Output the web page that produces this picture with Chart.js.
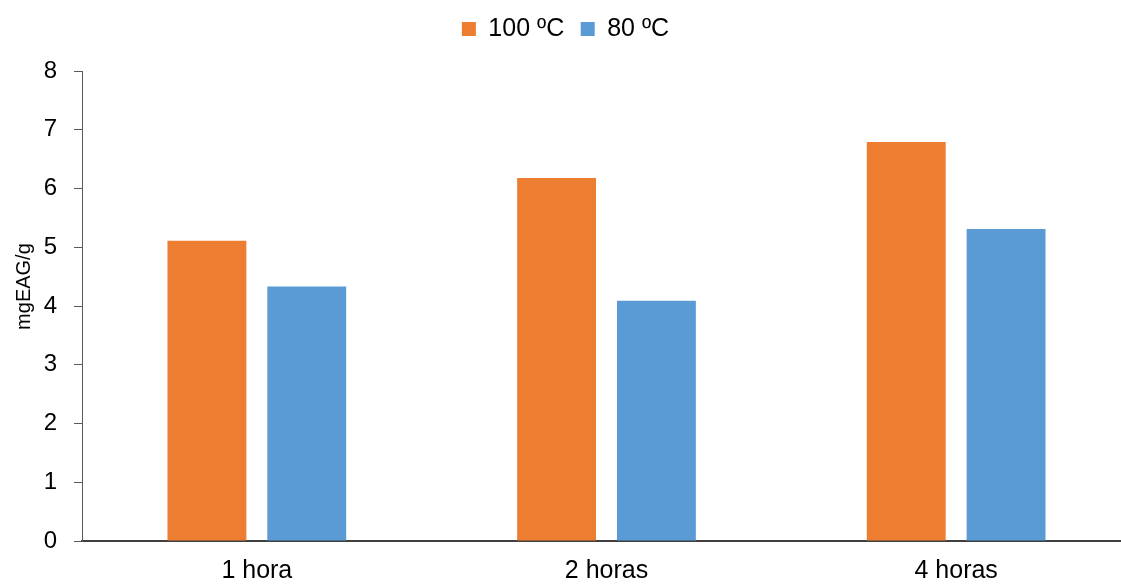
<!DOCTYPE html>
<html>
<head>
<meta charset="utf-8">
<script src="https://cdn.jsdelivr.net/npm/chart.js@4/dist/chart.umd.min.js"></script>
<style>
  html, body { margin: 0; padding: 0; background: #fff; overflow: hidden; }
  #wrap { position: relative; width: 1131px; height: 584px; }
</style>
</head>
<body>
<div id="wrap"><canvas id="chart"></canvas></div>
<script>
// Extraction time categories and measured values (mgEAG/g)
const categories = ['1 hora', '2 horas', '4 horas'];
const series100 = [5.11, 6.18, 6.79];
const series80 = [4.33, 4.09, 5.31];
const seriesLabels = ['100 ºC', '80 ºC'];
const yTicks = [0, 1, 2, 3, 4, 5, 6, 7, 8];

const FONT = "'Liberation Sans', Arial, sans-serif";
const PLOT_TOP = 71;      // top edge of the plotting area
const X_AXIS_BAND = 43;   // space under the plotting area for category labels

// Reserve a fixed band for the legend so the plot starts at PLOT_TOP
const legendBand = {
  id: 'legendBand',
  beforeInit(chart) {
    const lg = chart.legend;
    if (!lg) return;
    const fit = lg.fit;
    lg.fit = function () {
      fit.call(this);
      this.height = PLOT_TOP;
    };
  }
};

new Chart(document.getElementById('chart'), {
  type: 'bar',
  data: {
    labels: categories,
    datasets: [
      { label: seriesLabels[0], data: series100, backgroundColor: '#ED7D31',
        categoryPercentage: 0.571, barPercentage: 0.79 },
      { label: seriesLabels[1], data: series80, backgroundColor: '#5B9BD5',
        categoryPercentage: 0.571, barPercentage: 0.79 }
    ]
  },
  plugins: [legendBand],
  options: {
    responsive: true,
    maintainAspectRatio: false,
    animation: false,
    layout: { padding: 0 },
    plugins: {
      legend: {
        position: 'top',
        labels: {
          boxWidth: 14, boxHeight: 14, padding: 16.5,
          color: '#000',
          font: { family: FONT, size: 25 }
        }
      },
      tooltip: { enabled: false }
    },
    scales: {
      x: {
        grid: { display: false, drawTicks: false },
        border: { display: true, color: '#404040', width: 2 },
        ticks: { color: '#000', font: { family: FONT, size: 25 }, padding: 15 },
        afterFit: (s) => { s.height = X_AXIS_BAND; }
      },
      y: {
        min: 0, max: 8,
        afterBuildTicks: (s) => { s.ticks = yTicks.map(v => ({ value: v })); },
        grid: { drawOnChartArea: false, drawTicks: true, tickLength: 8, color: '#595959' },
        border: { display: true, color: '#595959', width: 1 },
        ticks: { color: '#000', font: { family: FONT, size: 24 }, padding: 17 },
        title: { display: true, text: '       mgEAG/g', color: '#000',
                 font: { family: FONT, size: 20 }, padding: { top: 12, bottom: 0 } },
        afterFit: (s) => { s.width = 82; }
      }
    }
  }
});
</script>
</body>
</html>
